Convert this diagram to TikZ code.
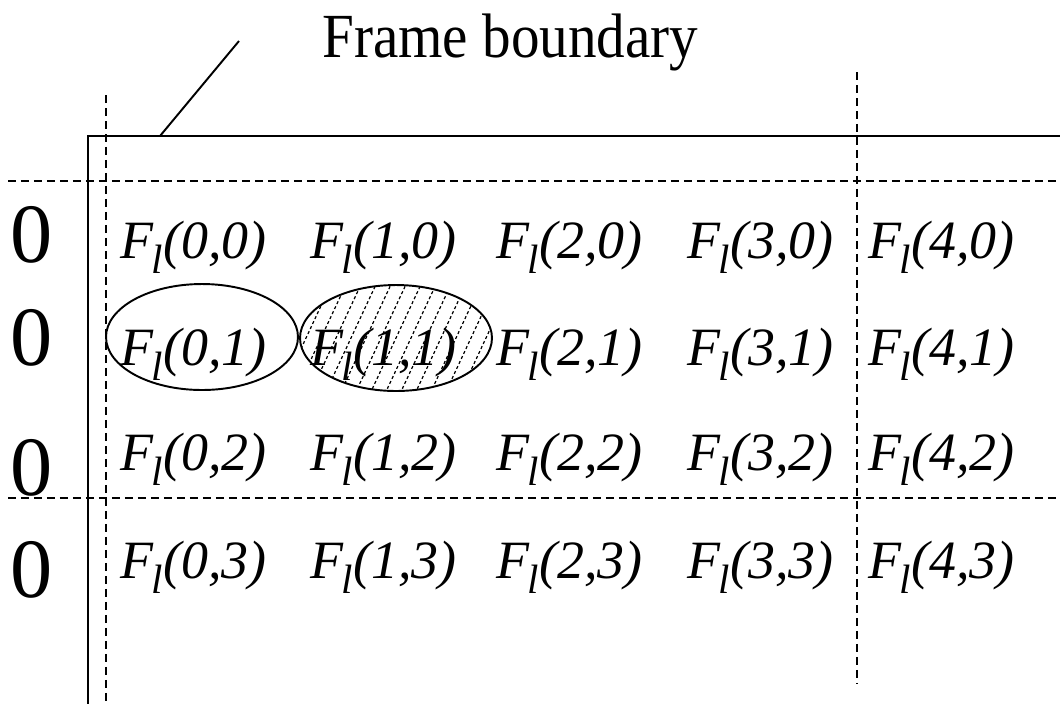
\documentclass[tikz,border=0pt]{standalone}
\usepackage{graphicx}
\usepackage{fontspec}
\setmainfont{Liberation Serif}
\usetikzlibrary{shapes.geometric}
\newcommand{\Flab}[1]{\textit{F\kern-0.03em\raisebox{-0.28em}{\scalebox{0.76}{l}}(#1)}}
\begin{document}
\begin{tikzpicture}[x=0.02cm,y=-0.02cm,
  frameline/.style={line width=1.2pt},
  gridline/.style={line width=1.1pt, dash pattern=on 0.16cm off 0.1cm},
  leader/.style={line width=1.1pt},
  cell/.style={anchor=base west, inner sep=0pt, font=\fontsize{30.7}{36}\selectfont},
  zero/.style={anchor=base, inner sep=0pt, font=\fontsize{48}{56}\selectfont},
  title/.style={anchor=base west, inner sep=0pt, font=\fontsize{32.5}{38}\selectfont},
  oval/.style={draw, ellipse, line width=1.1pt, inner sep=0pt, minimum width=3.84cm, minimum height=2.12cm},
  hatch/.style={line width=0.7pt, dash pattern=on 0.06cm off 0.05cm}]
\useasboundingbox (0,0) rectangle (1060,704);
% coordinates of the frame and grid lines
\coordinate (tr) at (1060,136);
\coordinate (tl) at (88,136);
\coordinate (bl) at (88,704);
\coordinate (h1a) at (8,181);
\coordinate (h1b) at (1060,181);
\coordinate (h2a) at (8,498);
\coordinate (h2b) at (1058,498);
\coordinate (v1a) at (106,95);
\coordinate (v1b) at (106,704);
\coordinate (v2a) at (857,72);
\coordinate (v2b) at (857,684);
\coordinate (lead1) at (160,136);
\coordinate (lead2) at (239,41);
% frame boundary
\draw[frameline] (tr) -- (tl) -- (bl);
% dashed grid
\draw[gridline] (h1a) -- (h1b);
\draw[gridline] (h2a) -- (h2b);
\draw[gridline] (v1a) -- (v1b);
\draw[gridline] (v2a) -- (v2b);
% leader and title
\draw[leader] (lead1) -- (lead2);
\node[title] (ttl) at (322,57) {\scalebox{1}[1.1]{Frame boundary}};
% ellipses
\node[oval] (e1) at (202,337) {};
\node[oval, path picture={
  \foreach \k in {-11,...,11}{
    \draw[hatch] ([xshift=\k*0.3cm]path picture bounding box.center) ++(245:2cm) -- ++(65:4cm);
  }}] (e2) at (396,338) {};
% zeros
\foreach \r/\y in {0/262,1/365,2/495,3/597}
  \node[zero] (z\r) at (32,\y) {0};
% cells
\foreach \c/\x in {0/120,1/310,2/496,3/687,4/868}
  \foreach \r/\y in {0/258,1/365,2/470,3/578}
    \node[cell] (c\c\r) at (\x,\y) {\Flab{\c,\r}};
\end{tikzpicture}
\end{document}
